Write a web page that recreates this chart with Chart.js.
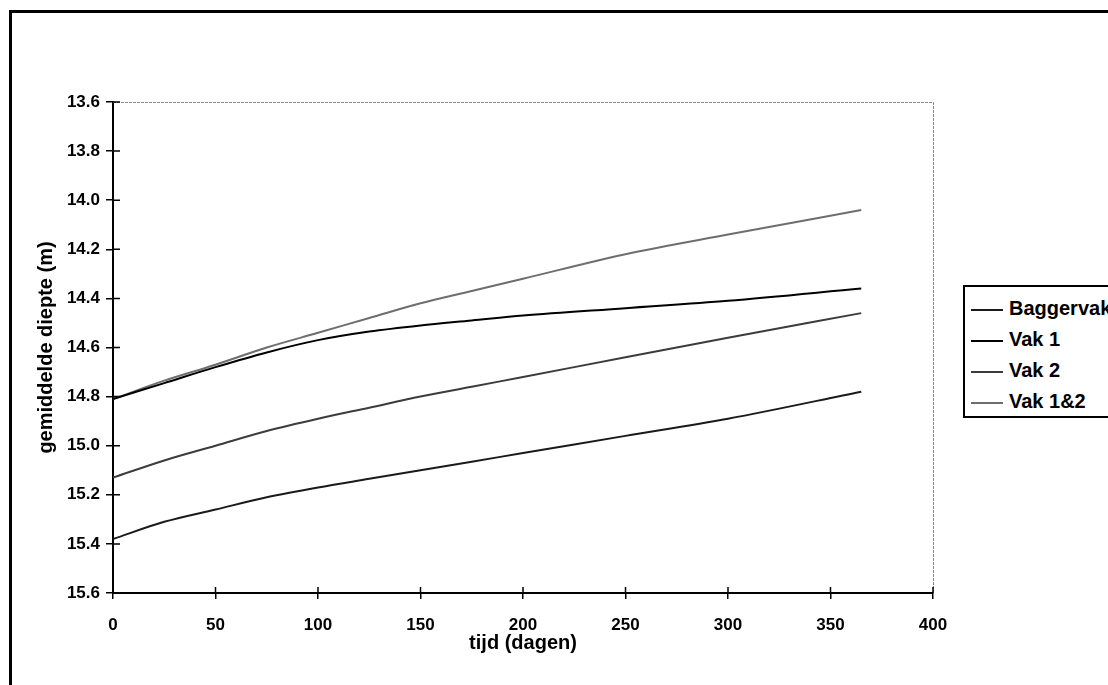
<!DOCTYPE html>
<html>
<head>
<meta charset="utf-8">
<script src="https://cdn.jsdelivr.net/npm/chart.js@4/dist/chart.umd.min.js"></script>
<style>
  html, body { margin: 0; padding: 0; background: #fff; overflow: hidden; }
  #wrap { position: relative; width: 1108px; height: 685px; }
  #frame { position: absolute; left: 9px; top: 10px; width: 1200px; height: 800px; border: 3px solid #000; }
  #chart { position: absolute; left: 0; top: 0; }
  #legend {
    position: absolute; left: 963px; top: 285px; width: 200px; height: 133px;
    border: 2px solid #000; background: #fff; padding-top: 6px; box-sizing: border-box;
    font: bold 20px "Liberation Sans", Arial, sans-serif; color: #000;
  }
  .item { height: 31px; line-height: 31px; white-space: nowrap; }
  .swatch { display: inline-block; width: 32px; height: 2px; vertical-align: middle; margin: 0 6px 0 6px; }
</style>
</head>
<body>
<div id="wrap">
  <div id="frame"></div>
  <canvas id="chart" width="1108" height="685"></canvas>
  <div id="legend"></div>
</div>
<script>
// days on the x axis
const days = [0, 25, 50, 75, 100, 125, 150, 175, 200, 250, 300, 365];

// mean depth (m) per series
const baggervak = [15.38, 15.31, 15.26, 15.21, 15.17, 15.135, 15.10, 15.065, 15.03, 14.96, 14.89, 14.78];
const vak1      = [14.81, 14.745, 14.68, 14.62, 14.57, 14.535, 14.51, 14.49, 14.47, 14.44, 14.41, 14.36];
const vak2      = [15.13, 15.06, 15.00, 14.94, 14.89, 14.845, 14.80, 14.76, 14.72, 14.64, 14.56, 14.46];
const vak12     = [14.81, 14.735, 14.67, 14.60, 14.54, 14.48, 14.42, 14.37, 14.32, 14.22, 14.14, 14.04];

const seriesNames  = ['Baggervak', 'Vak 1', 'Vak 2', 'Vak 1&2'];
const seriesValues = [baggervak, vak1, vak2, vak12];
const seriesColors = ['#1a1a1a', '#000000', '#3c3c3c', '#6e6e6e'];

const xTitle = 'tijd (dagen)';
const yTitle = 'gemiddelde diepte (m)';

const FONT = '"Liberation Sans", Arial, sans-serif';

// tick marks crossing into the plot + thin dotted top/right plot border
const crossTicks = {
  id: 'crossTicks',
  afterDraw(chart) {
    const { ctx, chartArea: a, scales } = chart;
    ctx.save();
    ctx.strokeStyle = '#888';
    ctx.lineWidth = 1;
    ctx.setLineDash([3, 1]);
    ctx.beginPath();
    ctx.moveTo(a.left, a.top + 0.5);
    ctx.lineTo(a.right + 0.5, a.top + 0.5);
    ctx.lineTo(a.right + 0.5, a.bottom);
    ctx.stroke();
    ctx.setLineDash([]);
    ctx.strokeStyle = '#000';
    ctx.lineWidth = 1.5;
    ctx.beginPath();
    scales.y.ticks.forEach((t) => {
      const y = scales.y.getPixelForValue(t.value);
      ctx.moveTo(a.left, y);
      ctx.lineTo(a.left + 7, y);
    });
    scales.x.ticks.forEach((t) => {
      const x = scales.x.getPixelForValue(t.value);
      ctx.moveTo(x, a.bottom);
      ctx.lineTo(x, a.bottom - 6);
    });
    ctx.stroke();
    ctx.restore();
  },
};

const datasets = seriesNames.map((name, i) => ({
  label: name,
  data: days.map((d, j) => ({ x: d, y: seriesValues[i][j] })),
  borderColor: seriesColors[i],
  borderWidth: 2,
  pointRadius: 0,
  cubicInterpolationMode: 'monotone',
  fill: false,
}));

new Chart(document.getElementById('chart'), {
  type: 'line',
  data: { datasets },
  options: {
    responsive: false,
    animation: false,
    layout: { padding: { left: 0, top: 102, right: 175, bottom: 0 } },
    plugins: { legend: { display: false }, tooltip: { enabled: false } },
    scales: {
      x: {
        type: 'linear',
        min: 0,
        max: 400,
        ticks: { stepSize: 50, padding: 16, color: '#000', font: { family: FONT, size: 17, weight: 'bold' } },
        grid: { drawOnChartArea: false, color: '#000', lineWidth: 1.5, tickLength: 6 },
        border: { color: '#000', width: 2 },
        title: { display: true, text: xTitle, color: '#000', padding: { top: 0, bottom: 30 }, font: { family: FONT, size: 20, weight: 'bold' } },
        afterFit(scale) { scale.height = 92; },
      },
      y: {
        reverse: true,
        min: 13.6,
        max: 15.6,
        ticks: { stepSize: 0.2, padding: 6, color: '#000', font: { family: FONT, size: 17, weight: 'bold' }, callback: (v) => v.toFixed(1) },
        grid: { drawOnChartArea: false, color: '#000', lineWidth: 1.5, tickLength: 7 },
        border: { color: '#000', width: 2 },
        title: { display: true, text: yTitle, color: '#000', padding: { top: 34, bottom: 0 }, font: { family: FONT, size: 20, weight: 'bold' } },
        afterFit(scale) { scale.width = 113; },
      },
    },
  },
  plugins: [crossTicks],
});

document.getElementById('legend').innerHTML = seriesNames
  .map((name, i) => `<div class="item"><span class="swatch" style="background:${seriesColors[i]}"></span>${name}</div>`)
  .join('');
</script>
</body>
</html>
